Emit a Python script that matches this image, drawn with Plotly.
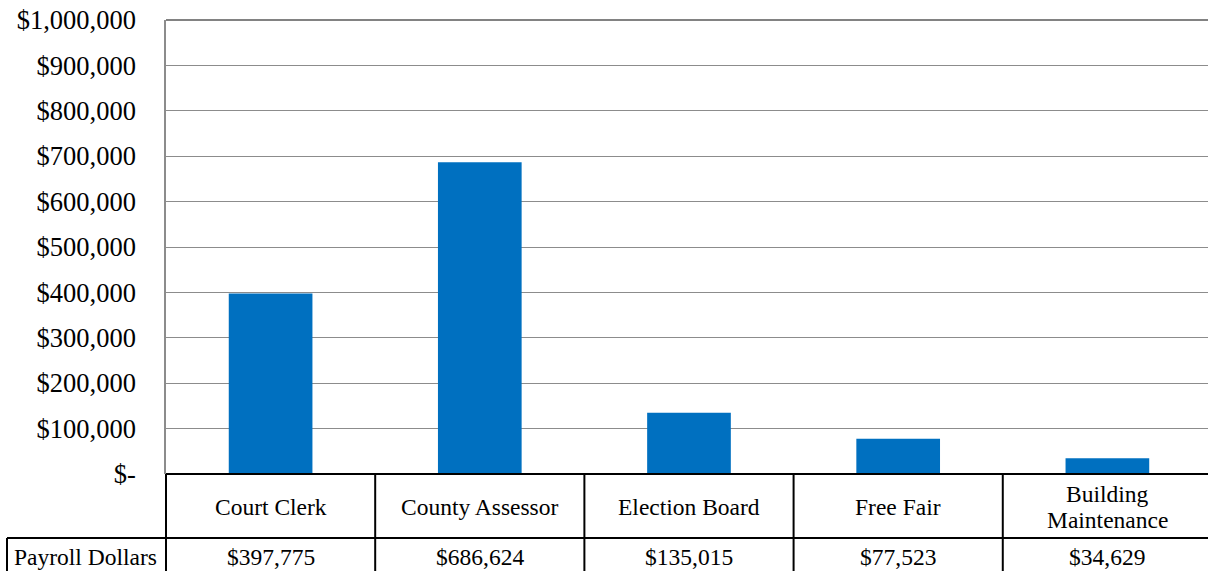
import plotly.graph_objects as go

categories = ["Court Clerk", "County Assessor", "Election Board", "Free Fair", "Building<br>Maintenance"]
payroll = [397775, 686624, 135015, 77523, 34629]
payroll_labels = ["$397,775", "$686,624", "$135,015", "$77,523", "$34,629"]
series_name = "Payroll Dollars"
tick_vals = [0, 100000, 200000, 300000, 400000, 500000, 600000, 700000, 800000, 900000, 1000000]
tick_text = ["$-", "$100,000", "$200,000", "$300,000", "$400,000", "$500,000",
             "$600,000", "$700,000", "$800,000", "$900,000", "$1,000,000"]

W, H = 1208, 571
ML, MR, MT, MB = 166, 0, 20, 97
plot_h = H - MT - MB  # 454
plot_w = W - ML - MR

FONT = "Liberation Serif, Times New Roman, serif"
TICK_SIZE = 26.5
TABLE_SIZE = 23.5
n = len(categories)
idx = list(range(n))

# the chart is slightly cropped on the right: visible part of the last category
X0 = -0.5
X1 = n - 0.5 - 0.019

fig = go.Figure()
fig.add_trace(go.Bar(x=idx, y=payroll, width=0.4, marker=dict(color="#0070C0", line=dict(width=0)),
                     name=series_name, hoverinfo="y"))

def py(px):
    return (H - MB - px) / plot_h

def pxx(px):
    return (px - ML) / plot_w

def xfrac(v):
    return (v - X0) / (X1 - X0)

shapes = []
line_black = dict(color="black", width=2)
shapes.append(dict(type="line", xref="x domain", yref="paper", x0=0, x1=1, y0=0, y1=0, line=line_black))
shapes.append(dict(type="line", xref="paper", yref="paper", x0=pxx(7), x1=1, y0=py(538), y1=py(538), line=line_black))
for i in range(n + 1):
    xf = xfrac(i - 0.5)
    if xf <= 1.0001:
        shapes.append(dict(type="line", xref="x domain", yref="paper", x0=xf, x1=xf,
                           y0=0, y1=py(575), line=line_black))
shapes.append(dict(type="line", xref="paper", yref="paper", x0=pxx(7), x1=pxx(7),
                   y0=py(538), y1=py(575), line=line_black))
shapes.append(dict(type="line", xref="x domain", yref="paper", x0=0, x1=1, y0=1, y1=1,
                   line=dict(color="#595959", width=1.5)))

annotations = []
LINE_H = 26
for i, (c, lab) in enumerate(zip(categories, payroll_labels)):
    parts = c.split("<br>")
    m = len(parts)
    for k, part in enumerate(parts):
        yc = 507 + (k - (m - 1) / 2) * LINE_H
        annotations.append(dict(x=i, xref="x", y=py(yc), yref="paper", text=part, showarrow=False,
                                font=dict(family=FONT, size=TABLE_SIZE, color="black"),
                                yanchor="middle", xanchor="center"))
    annotations.append(dict(x=i, xref="x", y=py(557), yref="paper", text=lab, showarrow=False,
                            font=dict(family=FONT, size=TABLE_SIZE, color="black"),
                            yanchor="middle", xanchor="center"))
annotations.append(dict(x=pxx(85), xref="paper", y=py(557), yref="paper", text=series_name, showarrow=False,
                        font=dict(family=FONT, size=TABLE_SIZE, color="black"), yanchor="middle", xanchor="center"))

fig.update_layout(
    width=W, height=H,
    margin=dict(l=ML, r=MR, t=MT, b=MB, pad=0),
    paper_bgcolor="white", plot_bgcolor="white",
    showlegend=False,
    shapes=shapes,
    annotations=annotations,
    xaxis=dict(range=[X0, X1], showticklabels=False, showgrid=False, zeroline=False,
               showline=False, fixedrange=True),
    yaxis=dict(range=[0, 1000000], tickvals=tick_vals, ticktext=tick_text,
               showgrid=True, gridcolor="#8C8C8C", gridwidth=1.3,
               zeroline=False, showline=True, linecolor="#8C8C8C", linewidth=1.5,
               ticks="", ticklabelstandoff=23,
               tickfont=dict(family=FONT, size=TICK_SIZE, color="black"), fixedrange=True),
)

fig.write_html("out.html", config={"displayModeBar": False},
               post_script="document.body.style.margin='0';document.body.style.overflow='hidden';")
